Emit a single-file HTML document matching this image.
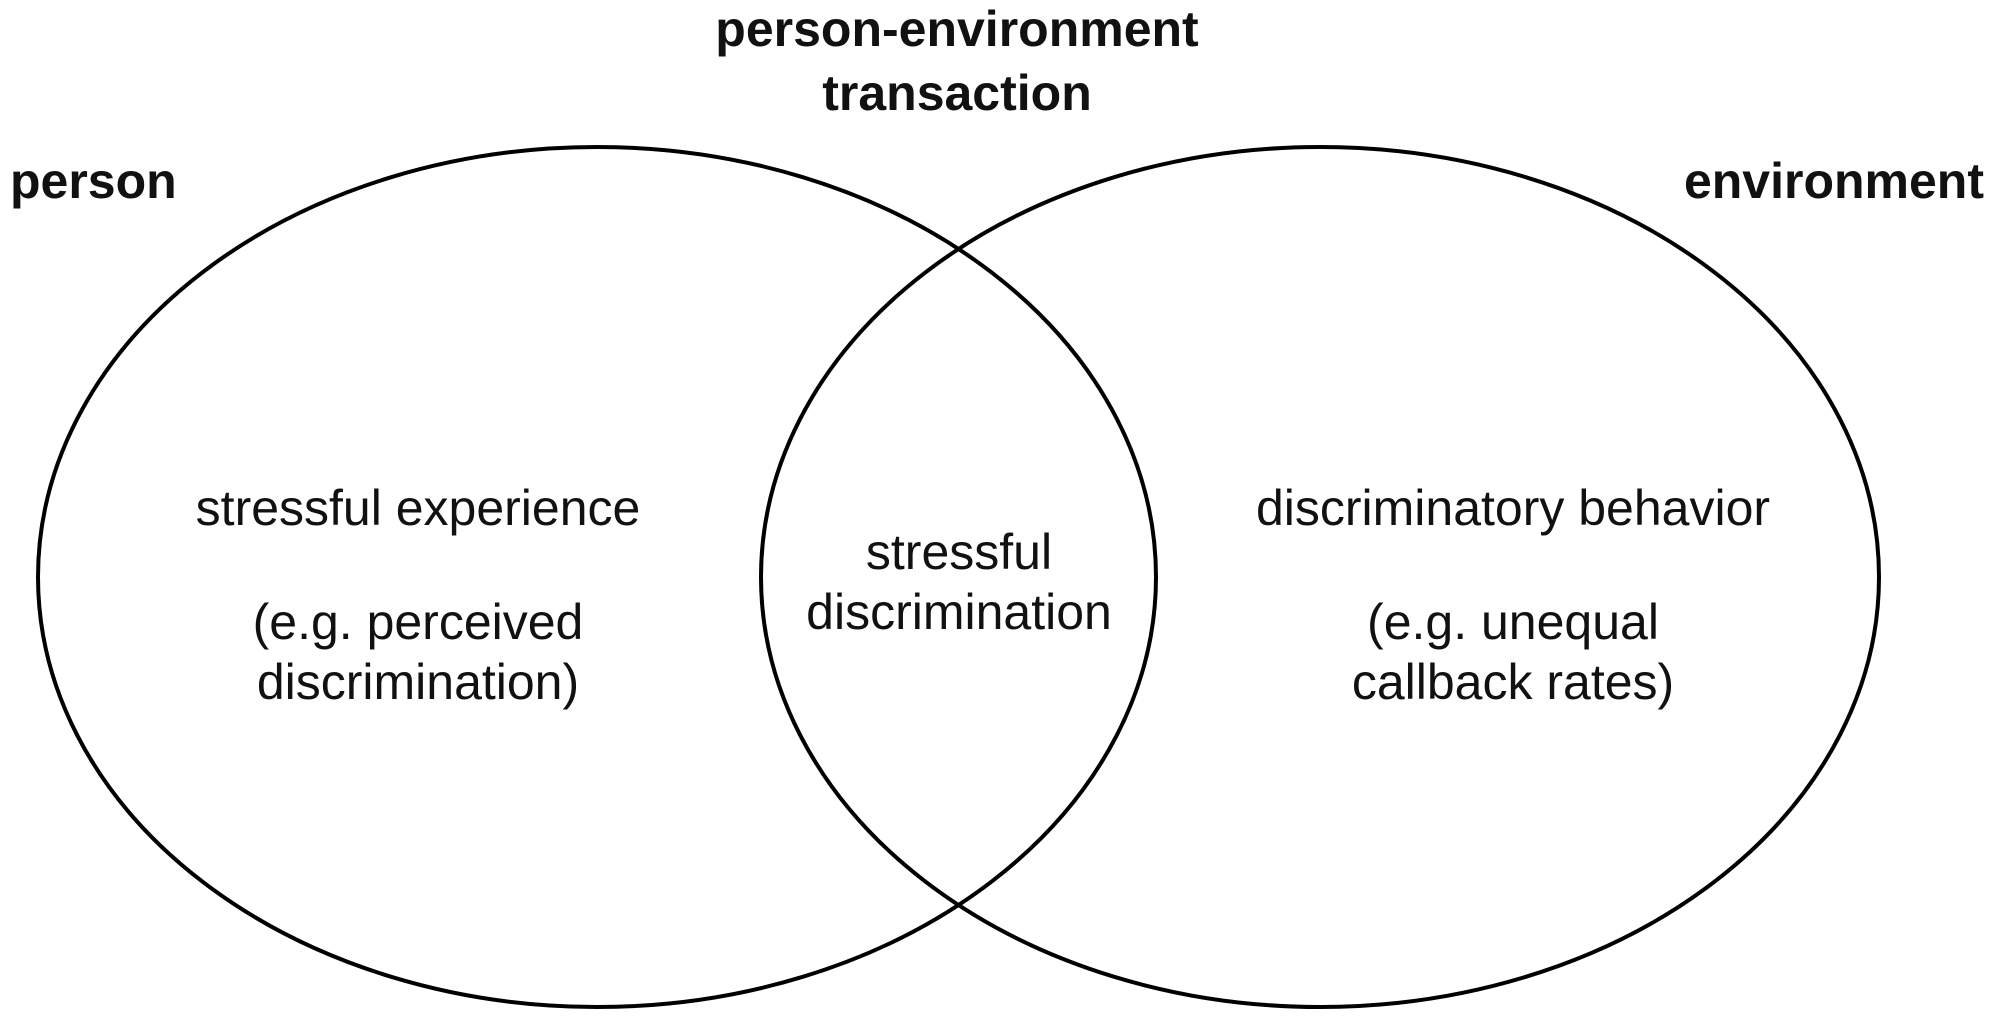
<!DOCTYPE html>
<html><head><meta charset="utf-8"><style>
html,body{margin:0;padding:0;background:#fff;}
svg{display:block;}
text{font-family:"Liberation Sans",sans-serif;fill:#111;}
.b{font-weight:bold;font-size:50px;}
.r{font-size:50px;}
</style></head><body>
<svg width="2000" height="1023" viewBox="0 0 2000 1023">
<ellipse cx="597" cy="577" rx="559" ry="430" fill="none" stroke="#000" stroke-width="4"/>
<ellipse cx="1320" cy="577" rx="559" ry="430" fill="none" stroke="#000" stroke-width="4"/>
<text class="b" x="10" y="198">person</text>
<text class="b" x="957" y="46" text-anchor="middle">person-environment</text>
<text class="b" x="957" y="110" text-anchor="middle">transaction</text>
<text class="b" x="1984" y="198" text-anchor="end">environment</text>
<text class="r" x="418" y="525" text-anchor="middle">stressful experience</text>
<text class="r" x="418" y="639" text-anchor="middle">(e.g. perceived</text>
<text class="r" x="418" y="699" text-anchor="middle">discrimination)</text>
<text class="r" x="959" y="569" text-anchor="middle">stressful</text>
<text class="r" x="959" y="629" text-anchor="middle">discrimination</text>
<text class="r" x="1513" y="525" text-anchor="middle">discriminatory behavior</text>
<text class="r" x="1513" y="639" text-anchor="middle">(e.g. unequal</text>
<text class="r" x="1513" y="699" text-anchor="middle">callback rates)</text>
</svg>
</body></html>
